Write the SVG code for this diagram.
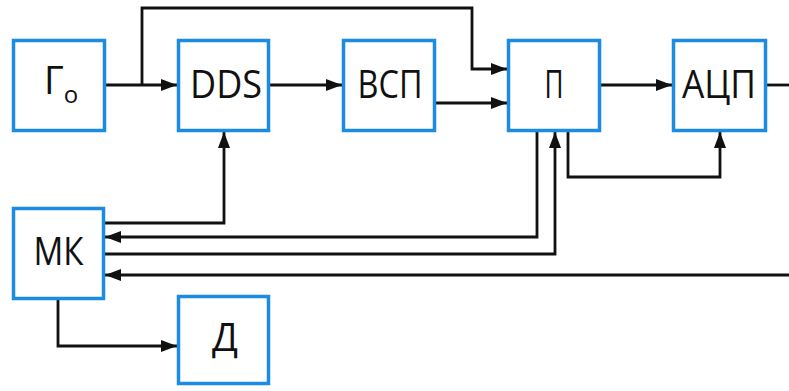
<svg xmlns="http://www.w3.org/2000/svg" width="789" height="391" viewBox="0 0 789 391">
  <defs>
    <marker id="arrow" markerUnits="userSpaceOnUse" markerWidth="17" markerHeight="13" refX="16" refY="6.5" orient="auto">
      <path d="M0,0.5 L16,6.5 L0,12.5 Z" fill="#111"/>
    </marker>
    <style>
      .box { fill: #ffffff; stroke: #1c8ce3; stroke-width: 3.5; }
      .lbl { font-family: "Open Sans", "Liberation Sans", sans-serif; font-size: 38px; fill: #111; text-anchor: middle; }
      .wire { fill: none; stroke: #111; stroke-width: 2.8; }
      .arr { marker-end: url(#arrow); }
    </style>
  </defs>
  <rect width="789" height="391" fill="#ffffff"/>

  <!-- connectors -->
  <g id="connectors">
    <path class="wire arr" d="M106,85 H177"/>
    <path class="wire arr" d="M142,85 V8 H472 V69 H507"/>
    <path class="wire arr" d="M270,85 H342"/>
    <path class="wire arr" d="M436,103 H507"/>
    <path class="wire arr" d="M601,85 H672"/>
    <path class="wire" d="M767,85 H789"/>
    <path class="wire arr" d="M568,132 V177 H720 V132"/>
    <path class="wire arr" d="M105,223 H224 V132"/>
    <path class="wire arr" d="M537,132 V237 H105"/>
    <path class="wire arr" d="M105,254 H555 V132"/>
    <path class="wire arr" d="M789,275 H105"/>
    <path class="wire arr" d="M58,300 V346 H177"/>
  </g>

  <!-- blocks -->
  <g id="node-g0">
    <rect class="box" x="13.5" y="40.5" width="91" height="90"/>
    <text class="lbl" x="44" y="94" font-size="36" style="text-anchor:start">Г<tspan font-size="24" dy="9">o</tspan></text>
  </g>
  <g id="node-dds">
    <rect class="box" x="178.5" y="40.5" width="90" height="90"/>
    <text class="lbl" x="226" y="98" textLength="72" lengthAdjust="spacingAndGlyphs">DDS</text>
  </g>
  <g id="node-vsp">
    <rect class="box" x="343.5" y="40.5" width="91" height="90"/>
    <text class="lbl" x="390" y="98" textLength="65" lengthAdjust="spacingAndGlyphs">ВСП</text>
  </g>
  <g id="node-p">
    <rect class="box" x="508.5" y="40.5" width="91" height="90"/>
    <text class="lbl" x="554" y="98" textLength="19" lengthAdjust="spacingAndGlyphs">П</text>
  </g>
  <g id="node-adc">
    <rect class="box" x="673.5" y="40.5" width="92" height="90"/>
    <text class="lbl" x="719" y="98" textLength="74" lengthAdjust="spacingAndGlyphs">АЦП</text>
  </g>
  <g id="node-mk">
    <rect class="box" x="13.5" y="208.5" width="90" height="90"/>
    <text class="lbl" x="58.5" y="265" textLength="50" lengthAdjust="spacingAndGlyphs">МК</text>
  </g>
  <g id="node-d">
    <rect class="box" x="178.5" y="296.5" width="90" height="87"/>
    <text class="lbl" x="225" y="351">Д</text>
  </g>
</svg>
